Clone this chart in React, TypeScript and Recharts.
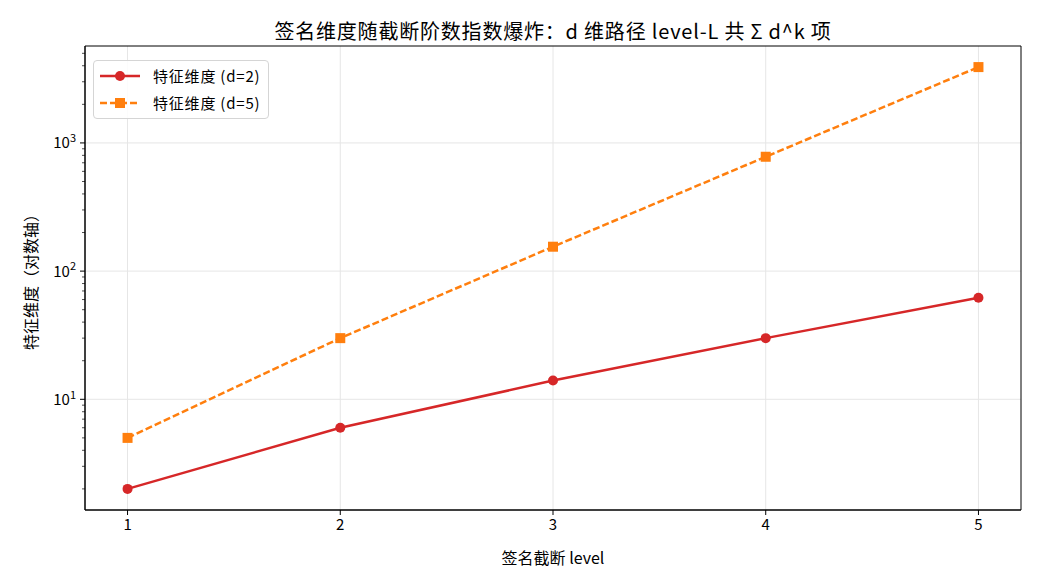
import { LineChart, Line, XAxis, YAxis, CartesianGrid, Legend, ReferenceArea } from 'recharts'

const levels = [1, 2, 3, 4, 5]
const featD2 = [2, 6, 14, 30, 62]
const featD5 = [5, 30, 155, 780, 3905]

const xTicks = [1, 2, 3, 4, 5]
const yMajor = [10, 100, 1000]
const yTicks = [
  2, 3, 4, 5, 6, 7, 8, 9, 10,
  20, 30, 40, 50, 60, 70, 80, 90, 100,
  200, 300, 400, 500, 600, 700, 800, 900, 1000,
  2000, 3000, 4000, 5000,
]
const xDomain: [number, number] = [0.8, 5.2]
const yDomain: [number, number] = [1.369, 5703]

const data = levels.map((l, i) => ({ level: l, d2: featD2[i], d5: featD5[i] }))

const RED = '#d62728'
const ORANGE = '#ff7f0e'
const FONT = '"Noto Sans CJK SC", "Noto Sans", sans-serif'

const YTick = (props: any) => {
  const { x, y, payload } = props
  const v = payload.value as number
  const e = Math.round(Math.log10(v))
  const major = yMajor.includes(v)
  return (
    <g>
      <line x1={x} x2={x - (major ? 5 : 3)} y1={y} y2={y} stroke="#000" strokeWidth={major ? 1 : 0.7} />
      {major && (
        <text x={x - 9} y={y} dy="0.36em" textAnchor="end" fontSize={15} fill="#000" fontFamily={FONT}>
          10
          <tspan dy="-0.55em" fontSize={11}>{e}</tspan>
        </text>
      )}
    </g>
  )
}

const SquareDot = (props: any) => {
  const { cx, cy } = props
  if (cx == null || cy == null) return null
  return <rect x={cx - 5} y={cy - 5} width={10} height={10} fill={ORANGE} />
}

const LegendBox = () => (
  <div
    style={{
      border: '1px solid #d5d5d5',
      borderRadius: 4,
      background: 'rgba(255,255,255,0.85)',
      padding: '1px 8px 2px 5px',
      fontFamily: FONT,
      fontSize: 15,
      letterSpacing: 0.8,
      color: '#000',
      width: 'fit-content',
    }}
  >
    {[
      { name: '特征维度 (d=2)', color: RED, dash: undefined, sq: false },
      { name: '特征维度 (d=5)', color: ORANGE, dash: '7 3', sq: true },
    ].map((it) => (
      <div key={it.name} style={{ display: 'flex', alignItems: 'center', height: 27 }}>
        <svg width={44} height={14} style={{ marginRight: 10 }}>
          <line x1={1} x2={41} y1={7} y2={7} stroke={it.color} strokeWidth={2.5} strokeDasharray={it.dash} />
          {it.sq ? (
            <rect x={16} y={2} width={10} height={10} fill={it.color} />
          ) : (
            <circle cx={21} cy={7} r={5} fill={it.color} />
          )}
        </svg>
        <span>{it.name}</span>
      </div>
    ))}
  </div>
)

export default function App() {
  return (
    <div style={{ position: 'absolute', left: 0, top: 0, width: 1040, height: 585, background: '#fff', fontFamily: FONT }}>
      <div
        style={{
          position: 'absolute',
          top: 17,
          left: 85,
          width: 936,
          textAlign: 'center',
          fontSize: 20,
          letterSpacing: 0.8,
          lineHeight: '28px',
          color: '#000',
        }}
      >
        签名维度随截断阶数指数爆炸：d 维路径 level-L 共 Σ d^k 项
      </div>
      <LineChart width={1040} height={585} data={data} margin={{ top: 46, right: 19, left: 0, bottom: 0 }}>
        <CartesianGrid
          stroke="#e6e6e6"
          strokeWidth={1}
          horizontalValues={yMajor}
          verticalValues={xTicks}
        />
        <XAxis
          dataKey="level"
          type="number"
          domain={xDomain}
          ticks={xTicks}
          allowDataOverflow
          height={75}
          tickSize={5}
          tickMargin={4}
          tick={{ fontSize: 15, fill: '#000', fontFamily: FONT }}
          stroke="#000"
          label={{ value: '签名截断 level', position: 'insideBottom', offset: 21, fontSize: 16, fill: '#000', fontFamily: FONT }}
        />
        <YAxis
          scale="log"
          type="number"
          domain={yDomain}
          allowDataOverflow
          ticks={yTicks}
          interval={0}
          width={85}
          tickSize={0}
          tickMargin={0}
          tickLine={false}
          tick={<YTick />}
          stroke="#000"
          label={{
            value: '特征维度（对数轴）',
            angle: -90,
            position: 'insideLeft',
            offset: 31,
            style: { textAnchor: 'middle' },
            fontSize: 16,
            fill: '#000',
            fontFamily: FONT,
          }}
        />
        <ReferenceArea
          x1={xDomain[0]}
          x2={xDomain[1]}
          y1={yDomain[0]}
          y2={yDomain[1]}
          fill="none"
          fillOpacity={0}
          stroke="#000"
          strokeWidth={1}
          ifOverflow="visible"
        />
        <Legend
          layout="horizontal"
          verticalAlign="middle"
          align="center"
          content={<LegendBox />}
          wrapperStyle={{ position: 'absolute', left: 93, top: 60, width: 'auto', height: 'auto' }}
        />
        <Line
          type="linear"
          dataKey="d2"
          stroke={RED}
          strokeWidth={2.5}
          dot={{ r: 5, fill: RED, stroke: RED, strokeWidth: 0 }}
          activeDot={false}
          isAnimationActive={false}
        />
        <Line
          type="linear"
          dataKey="d5"
          stroke={ORANGE}
          strokeWidth={2.5}
          strokeDasharray="7 3"
          dot={<SquareDot />}
          activeDot={false}
          isAnimationActive={false}
        />
      </LineChart>
    </div>
  )
}
